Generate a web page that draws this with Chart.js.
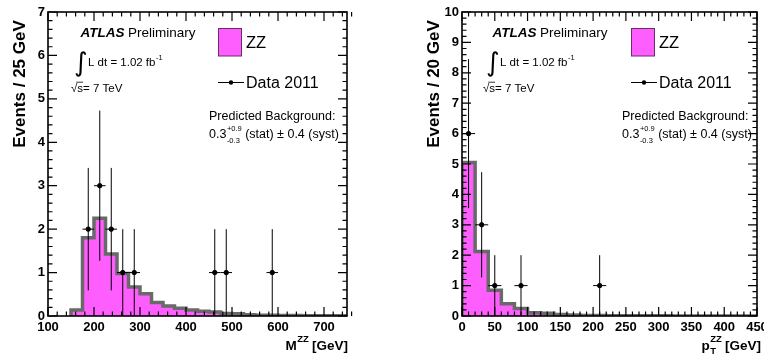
<!DOCTYPE html>
<html>
<head>
<meta charset="utf-8">
<script src="https://cdn.jsdelivr.net/npm/chart.js@4.4.0/dist/chart.umd.min.js"></script>
<style>
  body { margin: 0; background: #fff; }
  #wrap { display: flex; width: 764px; height: 358px; }
  canvas { display: block; }
</style>
</head>
<body>
<div id="wrap">
  <canvas id="mass" width="382" height="358"></canvas>
  <canvas id="pt" width="382" height="358"></canvas>
</div>
<script>
var FONT = '"Liberation Sans", Arial, Helvetica, sans-serif';
var MAGENTA = '#ff5eff';
var BAND = '#696969';

// ---- left panel: M(ZZ), 25 GeV bins ----
var massBinEdges = [150, 175, 200, 225, 250, 275, 300, 325, 350, 375, 400, 425, 450,
                    475, 500, 525, 550, 575, 600, 625, 650, 675, 700, 725, 750];
var massZZ = [0.14, 1.80, 2.25, 1.43, 0.98, 0.67, 0.51, 0.31, 0.23, 0.18, 0.14, 0.11,
              0.09, 0.06, 0.05, 0.03, 0.02, 0.015, 0.01, 0.01, 0.006, 0.005, 0.004, 0.003];
var massDataX = [187.5, 212.5, 237.5, 262.5, 287.5, 462.5, 487.5, 587.5];
var massDataY = [2, 3, 2, 1, 1, 1, 1, 1];
var massDataErr = [1.41, 1.73, 1.41, 1, 1, 1, 1, 1];
var massTicksX = [100, 200, 300, 400, 500, 600, 700];
var massTicksY = [0, 1, 2, 3, 4, 5, 6, 7];

// ---- right panel: pT(ZZ), 20 GeV bins ----
var ptBinEdges = [0, 20, 40, 60, 80, 100, 120, 140, 160, 180, 200, 220, 240, 260,
                  280, 300, 320, 340, 360, 380, 400, 420, 440, 460];
var ptZZ = [5.05, 2.12, 0.85, 0.40, 0.25, 0.11, 0.09, 0.05, 0.03, 0.02, 0.02, 0.01,
            0.01, 0.008, 0.006, 0.005, 0.004, 0.003, 0.003, 0.002, 0.002, 0.002, 0.001];
var ptDataX = [10, 30, 50, 90, 210];
var ptDataY = [6, 3, 1, 1, 1];
var ptDataErr = [2.45, 1.73, 1, 1, 1];
var ptTicksX = [0, 50, 100, 150, 200, 250, 300, 350, 400, 450];
var ptTicksY = [0, 1, 2, 3, 4, 5, 6, 7, 8, 9, 10];

function histPoints(edges, vals) {
  var pts = [{x: edges[0], y: 0}];
  vals.forEach(function(v, i) { pts.push({x: edges[i], y: v}); });
  pts.push({x: edges[edges.length - 1], y: 0});
  return pts;
}

function put(ctx, s, x, y, font, align) {
  ctx.font = font;
  ctx.textAlign = align || 'left';
  ctx.textBaseline = 'alphabetic';
  ctx.fillText(s, x, y);
  return ctx.measureText(s).width;
}
function wid(ctx, s, font) { ctx.font = font; return ctx.measureText(s).width; }

// ATLAS label, legend and background note (dx / dl shift the blocks)
function drawBlurb(ctx, dx, dl) {
  ctx.save();
  ctx.fillStyle = '#000';
  var w = put(ctx, 'ATLAS', 80.5 + dx, 36.7, 'italic bold 13.5px ' + FONT);
  put(ctx, 'Preliminary', 80.5 + dx + w + 3.5, 36.7, '13.5px ' + FONT);
  put(ctx, '\u222B', 74 + dx, 71, '26px "DejaVu Sans", sans-serif');
  w = put(ctx, 'L dt = 1.02 fb', 88 + dx, 66, '11.5px ' + FONT);
  put(ctx, '-1', 88 + dx + w + 0.5, 60, '7.5px ' + FONT);
  w = put(ctx, '\u221A', 71 + dx, 91.7, '11.5px ' + FONT);
  var sw = wid(ctx, 's', '11.5px ' + FONT);
  put(ctx, 's= 7 TeV', 71 + dx + w, 91.7, '11.5px ' + FONT);
  ctx.strokeStyle = '#000'; ctx.lineWidth = 0.8;
  ctx.beginPath(); ctx.moveTo(71 + dx + w - 1, 82.2); ctx.lineTo(71 + dx + w + sw, 82.2); ctx.stroke();

  // legend
  ctx.fillStyle = MAGENTA; ctx.strokeStyle = '#6a2c6a'; ctx.lineWidth = 1;
  ctx.fillRect(218.5 + dl, 28.5, 23, 27.5);
  ctx.strokeRect(218.5 + dl, 28.5, 23, 27.5);
  ctx.fillStyle = '#000';
  put(ctx, 'ZZ', 246 + dl, 48.3, '16.5px ' + FONT);
  ctx.strokeStyle = '#000';
  ctx.beginPath(); ctx.moveTo(218 + dl, 82.5); ctx.lineTo(244 + dl, 82.5); ctx.stroke();
  ctx.beginPath(); ctx.arc(231 + dl, 82.5, 2.2, 0, Math.PI * 2); ctx.fill();
  put(ctx, 'Data 2011', 246 + dl, 87.6, '16px ' + FONT);

  put(ctx, 'Predicted Background:', 209 + dl, 120, '12.5px ' + FONT);
  w = put(ctx, '0.3', 209 + dl, 138.3, '12.5px ' + FONT);
  var x = 209 + dl + w + 0.5;
  var w1 = put(ctx, '+0.9', x, 131, '7.5px ' + FONT);
  var w2 = put(ctx, '-0.3', x, 142.8, '7.5px ' + FONT);
  put(ctx, ' (stat) \u00B1 0.4 (syst)', x + Math.max(w1, w2), 138.3, '12.5px ' + FONT);
  ctx.restore();
}

function rootPlugin(opt) {
  return {
    id: 'root_' + opt.key,
    afterDatasetsDraw: function(chart) {
      var ctx = chart.ctx, a = chart.chartArea, xs = chart.scales.x, ys = chart.scales.y;
      ctx.save();
      // error bars on data points
      ctx.strokeStyle = '#000'; ctx.lineWidth = 1;
      opt.px.forEach(function(x, i) {
        var y = opt.py[i], e = opt.err[i];
        var cx = xs.getPixelForValue(x), cy = ys.getPixelForValue(y);
        ctx.beginPath();
        ctx.moveTo(cx, ys.getPixelForValue(Math.max(0, y - e)));
        ctx.lineTo(cx, ys.getPixelForValue(y + e));
        ctx.moveTo(xs.getPixelForValue(x - opt.halfW), cy);
        ctx.lineTo(xs.getPixelForValue(x + opt.halfW), cy);
        ctx.stroke();
      });
      // frame
      ctx.lineWidth = 1.6;
      ctx.strokeRect(a.left, a.top, a.right - a.left, a.bottom - a.top);
      // ticks on all four sides
      ctx.lineWidth = 1.2;
      ctx.beginPath();
      var n = Math.round((opt.xMax - opt.xMin) / opt.xMinor), i, v, p, L;
      for (i = 0; i <= n; i++) {
        v = opt.xMin + i * opt.xMinor;
        L = Math.abs(v / opt.xMajor - Math.round(v / opt.xMajor)) < 1e-6 ? 9 : 4.5;
        p = xs.getPixelForValue(v);
        ctx.moveTo(p, a.bottom); ctx.lineTo(p, a.bottom - L);
        ctx.moveTo(p, a.top); ctx.lineTo(p, a.top + L);
      }
      n = Math.round((opt.yMax - opt.yMin) / opt.yMinor);
      for (i = 0; i <= n; i++) {
        v = opt.yMin + i * opt.yMinor;
        L = Math.abs(v / opt.yMajor - Math.round(v / opt.yMajor)) < 1e-6 ? 9 : 4.5;
        p = ys.getPixelForValue(v);
        ctx.moveTo(a.left, p); ctx.lineTo(a.left + L, p);
        ctx.moveTo(a.right, p); ctx.lineTo(a.right - L, p);
      }
      ctx.stroke();
      ctx.restore();
    },
    afterDraw: function(chart) {
      var ctx = chart.ctx;
      ctx.save();
      ctx.fillStyle = '#000';
      // y title
      ctx.translate(opt.yTitleX, 84);
      ctx.rotate(-Math.PI / 2);
      put(ctx, opt.yTitle, 0, 6, 'bold 17px ' + FONT, 'center');
      ctx.restore();
      ctx.save();
      ctx.fillStyle = '#000';
      opt.xTitle(ctx);
      ctx.restore();
      drawBlurb(ctx, opt.dx, opt.dl);
    }
  };
}

function makeChart(id, o) {
  var tickFont = {family: FONT, size: 13, weight: 'bold'};
  return new Chart(document.getElementById(id), {
    type: 'line',
    data: {
      datasets: [{
        data: o.hist,
        stepped: 'before',
        fill: 'origin',
        backgroundColor: MAGENTA,
        borderColor: BAND,
        borderWidth: 3.5,
        pointRadius: 0,
        order: 2
      }, {
        type: 'scatter',
        data: o.points,
        showLine: false,
        pointRadius: 2.2,
        pointBackgroundColor: '#000',
        pointBorderColor: '#000',
        order: 1
      }]
    },
    options: {
      responsive: false,
      animation: false,
      events: [],
      plugins: { legend: { display: false }, tooltip: { enabled: false } },
      layout: { padding: { top: 12, right: o.padRight, left: 0, bottom: 0 } },
      scales: {
        x: {
          type: 'linear', min: o.plug.xMin, max: o.plug.xMax,
          afterBuildTicks: function(s) { s.ticks = o.ticksX.map(function(v) { return {value: v}; }); },
          afterFit: function(s) { s.height = 42; s.paddingLeft = 0; s.paddingRight = 0; },
          grid: { display: false, drawTicks: false },
          border: { display: false },
          ticks: { font: tickFont, color: '#000', padding: 4, maxRotation: 0, autoSkip: false }
        },
        y: {
          min: o.plug.yMin, max: o.plug.yMax,
          afterBuildTicks: function(s) { s.ticks = o.ticksY.map(function(v) { return {value: v}; }); },
          afterFit: function(s) { s.width = o.yWidth; s.paddingTop = 0; s.paddingBottom = 0; },
          grid: { display: false, drawTicks: false },
          border: { display: false },
          ticks: { font: tickFont, color: '#000', padding: 3, autoSkip: false }
        }
      }
    },
    plugins: [rootPlugin(o.plug)]
  });
}

function toPoints(xs, ys) { return xs.map(function(x, i) { return {x: x, y: ys[i]}; }); }

makeChart('mass', {
  hist: histPoints(massBinEdges, massZZ),
  points: toPoints(massDataX, massDataY),
  ticksX: massTicksX, ticksY: massTicksY,
  padRight: 35, yWidth: 48,
  plug: {
    key: 'mass', px: massDataX, py: massDataY, err: massDataErr, halfW: 12.5,
    xMin: 100, xMax: 750, xMajor: 100, xMinor: 20,
    yMin: 0, yMax: 7, yMajor: 1, yMinor: 0.2,
    yTitle: 'Events / 25 GeV', yTitleX: 19, dx: 0, dl: 0,
    xTitle: function(ctx) {
      var big = 'bold 13.5px ' + FONT, sm = 'bold 9.5px ' + FONT;
      var total = wid(ctx, 'M', big) + wid(ctx, 'ZZ', sm) + wid(ctx, ' [GeV]', big);
      var x = 348 - total;
      x += put(ctx, 'M', x, 350, big);
      x += put(ctx, 'ZZ', x + 0.5, 342, sm);
      put(ctx, ' [GeV]', x, 350, big);
    }
  }
});

makeChart('pt', {
  hist: histPoints(ptBinEdges, ptZZ),
  points: toPoints(ptDataX, ptDataY),
  ticksX: ptTicksX, ticksY: ptTicksY,
  padRight: 7, yWidth: 80,
  plug: {
    key: 'pt', px: ptDataX, py: ptDataY, err: ptDataErr, halfW: 10,
    xMin: 0, xMax: 450, xMajor: 50, xMinor: 10,
    yMin: 0, yMax: 10, yMajor: 1, yMinor: 0.2,
    yTitle: 'Events / 20 GeV', yTitleX: 51, dx: 30, dl: 31,
    xTitle: function(ctx) {
      var big = 'bold 13.5px ' + FONT, sm = 'bold 9.5px ' + FONT;
      var total = wid(ctx, 'p', big) + wid(ctx, 'ZZ', sm) + wid(ctx, ' [GeV]', big);
      var x = 379 - total;
      x += put(ctx, 'p', x, 350, big);
      put(ctx, 'T', x + 0.5, 354, sm);
      x += put(ctx, 'ZZ', x + 0.5, 342, sm);
      put(ctx, ' [GeV]', x, 350, big);
    }
  }
});
</script>
</body>
</html>
